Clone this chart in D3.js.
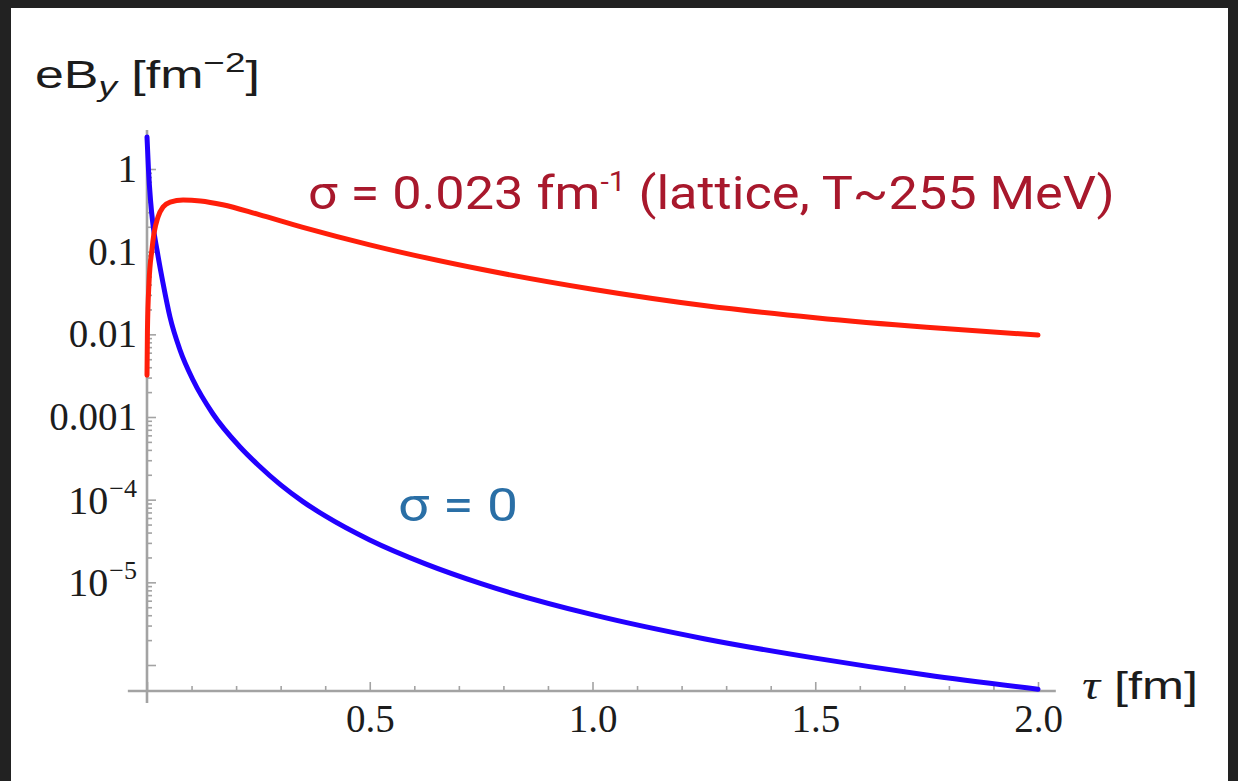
<!DOCTYPE html>
<html>
<head>
<meta charset="utf-8">
<script src="https://cdn.jsdelivr.net/npm/d3@7"></script>
<style>
  html, body { margin: 0; padding: 0; background: #222222; }
  svg { display: block; }
</style>
</head>
<body>
<svg id="chart" width="1238" height="781"></svg>
<script>
// Magnetic field eB_y versus proper time tau, log scale.
// σ = 0 (no conductivity)
const tauVacuum = [0, 0.00337, 0.00786, 0.01347, 0.02245, 0.0359, 0.0516, 0.0741, 0.1033,
                   0.1481, 0.2088, 0.25, 0.3, 0.35, 0.4, 0.5, 0.625, 0.75, 1.0, 1.25,
                   1.5, 1.75, 2.0];
const fieldVacuum = [2.44, 0.972, 0.422, 0.21, 0.1047, 0.0418, 0.0162, 0.00647, 0.0028,
                     0.001087, 4.34e-4, 2.61e-4, 1.51e-4, 9.48e-5, 6.35e-5, 3.25e-5, 1.67e-5,
                     9.63e-6, 4.06e-6, 2.08e-6, 1.21e-6, 7.57e-7, 5.08e-7];
// σ = 0.023 fm^-1 (lattice conductivity)
const tauLattice = [0, 0.001, 0.0045, 0.011, 0.0157, 0.0247, 0.036, 0.052, 0.081, 0.12,
                    0.17, 0.25, 0.35, 0.5, 0.75, 1.0, 1.25, 1.5, 1.75, 2.0];
const fieldLattice = [0.0032, 0.0112, 0.042, 0.105, 0.166, 0.263, 0.347, 0.398, 0.422, 0.411,
                      0.37, 0.282, 0.197, 0.121, 0.0612, 0.0351, 0.0223, 0.0159, 0.01217, 0.0098];

const xMajorTicks = [0, 0.5, 1.0, 1.5, 2.0];
const xTickLabels = ["", "0.5", "1.0", "1.5", "2.0"];
const yMajorTicks = [1, 0.1, 0.01, 0.001, 1e-4, 1e-5, 1e-6];
const yTickLabels = ["1", "0.1", "0.01", "0.001", "10^−4", "10^−5", ""];

const svg = d3.select("#chart");

// white page area inside the dark frame
svg.append("rect").attr("x", 11).attr("y", 8).attr("width", 1217).attr("height", 773)
   .attr("fill", "#ffffff");

const x = d3.scaleLinear().domain([0, 2]).range([147, 1038]);
const y = d3.scaleLog().domain([1e-6, 1]).range([665, 169]);

const axisY = 691;          // vertical position of the tau axis
const axisColor = "#a3a3a3";
const labelFont = "'Liberation Serif', 'Times New Roman', serif";

// ---- tau axis ----
const xMinor = d3.range(1, 20).map(i => i / 10).filter(v => Math.abs(v * 2 - Math.round(v * 2)) > 1e-9);
const gx = svg.append("g").attr("transform", `translate(0,${axisY})`);
gx.call(d3.axisBottom(x).tickValues(xMinor).tickSize(-5).tickFormat(""));
gx.call(g => g.select(".domain").remove());
const gxMajor = svg.append("g").attr("transform", `translate(0,${axisY})`);
gxMajor.call(d3.axisBottom(x).tickValues(xMajorTicks).tickSize(-9)
  .tickFormat((d, i) => xTickLabels[i]).tickPadding(0));
gxMajor.select(".domain").remove();
gxMajor.selectAll(".tick text")
  .attr("font-family", labelFont).attr("font-size", 39).attr("fill", "#1c1c1c")
  .attr("dy", null).attr("y", 41);

svg.append("line").attr("x1", x(-0.043)).attr("x2", x(2.04))
   .attr("y1", axisY).attr("y2", axisY)
   .attr("stroke", axisColor).attr("stroke-width", 2.6);

// ---- field axis ----
const yMinor = [];
for (let e = -6; e < 0; e++) for (let k = 2; k <= 9; k++) yMinor.push(k * Math.pow(10, e));
const gy = svg.append("g").attr("transform", `translate(${x(0)},0)`);
gy.call(d3.axisLeft(y).tickValues(yMinor).tickSize(-5).tickFormat(""));
gy.select(".domain").remove();
const gyMajor = svg.append("g").attr("transform", `translate(${x(0)},0)`);
gyMajor.call(d3.axisLeft(y).tickValues(yMajorTicks).tickSize(-9).tickFormat(""));
gyMajor.select(".domain").remove();
svg.selectAll("g .tick line").attr("stroke", axisColor).attr("stroke-width", 1.6);

svg.append("line").attr("x1", x(0)).attr("x2", x(0))
   .attr("y1", 130).attr("y2", 703)
   .attr("stroke", axisColor).attr("stroke-width", 2.6);

// y tick labels: decimals or powers of ten
yMajorTicks.forEach((v, i) => {
  const lab = yTickLabels[i];
  if (!lab) return;
  const t = svg.append("text")
    .attr("font-family", labelFont).attr("fill", "#1c1c1c")
    .attr("text-anchor", "end")
    .attr("x", x(0) - 10).attr("y", y(v) + 13);
  if (lab.includes("^")) {
    const [base, exp] = lab.split("^");
    t.attr("y", y(v) + 14);
    t.append("tspan").attr("font-size", 40).text(base);
    t.append("tspan").attr("font-size", 26).attr("dy", -17).attr("dx", 1).text(exp);
  } else {
    t.attr("font-size", 39).text(lab);
  }
});

// ---- curves ----
const line = d3.line().x(d => x(d[0])).y(d => y(d[1])).curve(d3.curveMonotoneX);
svg.append("path").datum(d3.zip(tauVacuum, fieldVacuum))
   .attr("d", line).attr("fill", "none")
   .attr("stroke", "#2200ff").attr("stroke-width", 5).attr("stroke-linecap", "round");
svg.append("path").datum(d3.zip(tauLattice, fieldLattice))
   .attr("d", line).attr("fill", "none")
   .attr("stroke", "#ff1e0a").attr("stroke-width", 5).attr("stroke-linecap", "round");

// helper: stretch a text block horizontally to a given width
function fitWidth(sel, x0, base, width) {
  const w = sel.node().getBBox().width;
  sel.attr("transform", `translate(${x0},${base}) scale(${width / w},1)`);
}

// ---- axis titles ----
const sans = "'Liberation Sans', Arial, Helvetica, sans-serif";
const yTitle = svg.append("text").attr("font-family", sans).attr("fill", "#1c1c1c").attr("font-size", 38);
yTitle.append("tspan").text("eB");
yTitle.append("tspan").attr("font-style", "italic").attr("font-size", 27).attr("dy", 8).text("y");
yTitle.append("tspan").attr("dy", -8).text(" [fm");
yTitle.append("tspan").attr("font-size", 27).attr("dy", -16).text("−2");
yTitle.append("tspan").attr("dy", 16).text("]");
fitWidth(yTitle, 35, 88, 225);

const xTitle = svg.append("text").attr("fill", "#1c1c1c").attr("font-size", 39);
xTitle.append("tspan").attr("font-family", labelFont).attr("font-style", "italic").text("τ");
xTitle.append("tspan").attr("font-family", sans).text(" [fm]");
fitWidth(xTitle, 1082, 699, 116);

// ---- curve annotations ----
const annFont = "Roboto, 'Noto Sans', sans-serif";
const redLabel = svg.append("text").attr("font-family", annFont).attr("font-size", 47).attr("fill", "#a8182c");
redLabel.append("tspan").text("σ = 0.023 fm");
redLabel.append("tspan").attr("font-size", 27).attr("dy", -18).text("-1");
redLabel.append("tspan").attr("dy", 18).text(" (lattice, T~255 MeV)");
fitWidth(redLabel, 308, 209, 807);

const blueLabel = svg.append("text").attr("font-family", annFont).attr("font-size", 47).attr("fill", "#2a6fa6")
  .text("σ = 0");
fitWidth(blueLabel, 398, 521, 120);
</script>
</body>
</html>
